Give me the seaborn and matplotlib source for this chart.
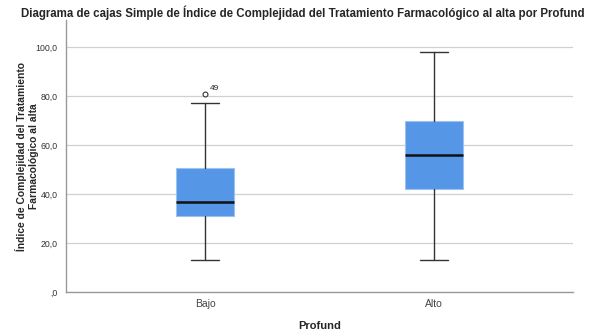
import matplotlib
matplotlib.use("Agg")
import matplotlib.pyplot as plt
import seaborn as sns

# grupos de Profund y estadisticos de caja
grupos = ["Bajo", "Alto"]
minimos = [12.9, 13.0]
q1 = [31.2, 42.0]
medianas = [36.9, 55.9]
q3 = [50.5, 69.8]
maximos = [77.0, 97.8]
atipicos = [[80.8], []]
etiquetas_atipicos = [["49"], []]

yticks = [0, 20, 40, 60, 80, 100]
ytick_labels = [",0", "20,0", "40,0", "60,0", "80,0", "100,0"]

sns.set_style("white")
plt.rcParams['font.family'] = ['Liberation Sans', 'DejaVu Sans']

stats = []
for i, g in enumerate(grupos):
    stats.append({"label": g, "whislo": minimos[i], "q1": q1[i], "med": medianas[i],
                  "q3": q3[i], "whishi": maximos[i], "fliers": atipicos[i]})

fig = plt.figure(figsize=(6, 3.36), dpi=100)
ax = fig.add_axes([0.11, 0.131, 0.845, 0.809])

ax.bxp(stats, positions=range(len(grupos)), widths=0.25, patch_artist=True,
       boxprops=dict(facecolor="#5596e6", edgecolor="#9cc2f0", linewidth=0.8),
       medianprops=dict(color="#111111", linewidth=1.8),
       whiskerprops=dict(color="#333333", linewidth=1.0),
       capprops=dict(color="#333333", linewidth=1.0),
       capwidths=0.125,
       flierprops=dict(marker="o", markersize=3.5, markerfacecolor="white",
                       markeredgecolor="#333333", markeredgewidth=0.8),
       zorder=3)

for i, g in enumerate(grupos):
    for v, t in zip(atipicos[i], etiquetas_atipicos[i]):
        ax.annotate(t, (i, v), xytext=(3.5, 3), textcoords="offset points",
                    fontsize=6, color="#222222")

ax.set_xlim(-0.607, 1.607)
ax.set_ylim(0, 111)
ax.set_yticks(yticks)
ax.set_yticklabels(ytick_labels)
ax.yaxis.grid(True, color="#d0d0d0", linewidth=0.9, zorder=0)
ax.set_axisbelow(True)
ax.tick_params(axis="y", labelsize=6.3, colors="#333333", length=0, pad=6)
ax.tick_params(axis="x", labelsize=7.5, colors="#444444", length=0, pad=5)

for s in ["top", "right"]:
    ax.spines[s].set_visible(False)
for s in ["left", "bottom"]:
    ax.spines[s].set_color("#999999")
    ax.spines[s].set_linewidth(1.0)

ax.set_xlabel("Profund", fontsize=8, fontweight="bold", labelpad=9)
ax.set_ylabel("Índice de Complejidad del Tratamiento\nFarmacológico al alta",
              fontsize=7.4, fontweight="bold", linespacing=1.2)
ax.yaxis.set_label_coords(-0.054, 0.5)
fig.suptitle("Diagrama de cajas Simple de Índice de Complejidad del Tratamiento Farmacológico al alta por Profund",
             fontsize=8.3, fontweight="bold", x=0.505, y=0.985)

fig.savefig("out.png", dpi=100)
